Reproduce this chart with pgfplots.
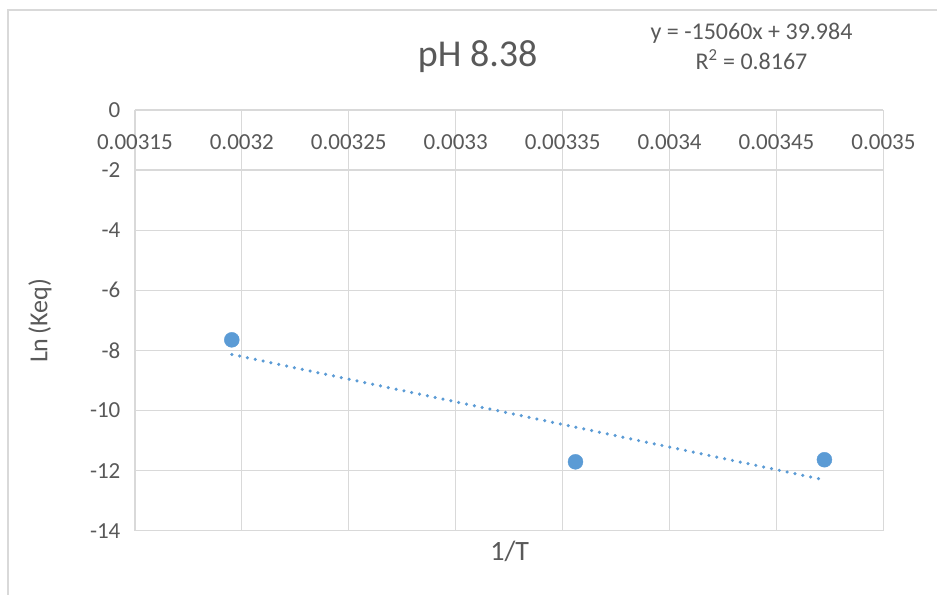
\documentclass[border=0pt]{standalone}
\usepackage{pgfplots}
\pgfplotsset{compat=1.18}
\usepackage{fontspec}
\setmainfont{Carlito}
\definecolor{txt}{HTML}{595959}
\definecolor{gridc}{HTML}{D9D9D9}
\definecolor{ser}{HTML}{5B9BD5}
\begin{document}
\begin{tikzpicture}[x=1pt,y=1pt]
\path (0,0) rectangle (938,595);
\draw[gridc, line width=1.2pt] (8,0) -- (8,585) -- (938,585);
\begin{axis}[
  at={(135pt,64pt)}, anchor=south west,
  scale only axis, width=749pt, height=421pt,
  xmin=0.00315, xmax=0.0035, ymin=-14, ymax=0,
  scaled ticks=false,
  xtick={0.00315,0.0032,0.00325,0.0033,0.00335,0.0034,0.00345,0.0035},
  xticklabels={0.00315,0.0032,0.00325,0.0033,0.00335,0.0034,0.00345,0.0035},
  ytick={0,-2,-4,-6,-8,-10,-12,-14},
  yticklabels={0,-2,-4,-6,-8,-10,-12,-14},
  xticklabel pos=upper,
  xticklabel style={anchor=center, yshift=-32pt},
  yticklabel style={xshift=-11pt},
  tick style={draw=none},
  axis line style={draw=none},
  grid=major, grid style={gridc, line width=1.2pt},
  ticklabel style={font=\fontsize{23}{26}\selectfont, text=txt},
  /pgf/number format/assume math mode=true,
  clip=false,
]
\addplot[only marks, mark=*, mark size=7.5pt, mark options={fill=ser, draw=ser}]
  coordinates {(0.0031953,-7.65) (0.003356,-11.71) (0.0034724,-11.64)};
\addplot[ser, line width=3.5pt, line cap=round, dash pattern=on 0pt off 8pt]
  coordinates {(0.0031953,-8.137) (0.0034724,-12.310)};
\end{axis}
\node[text=txt, font=\fontsize{38}{42}\selectfont] at (478,538) {pH 8.38};
\node[text=txt, font=\fontsize{24}{28}\selectfont] at (752,562) {y = -15060x + 39.984};
\node[text=txt, font=\fontsize{24}{28}\selectfont] at (752,535) {R\textsuperscript{2} = 0.8167};
\node[text=txt, font=\fontsize{28}{32}\selectfont] at (510,43) {1/T};
\node[text=txt, font=\fontsize{26}{30}\selectfont, rotate=90] at (40,274) {Ln\,(Keq)};
\end{tikzpicture}
\end{document}
